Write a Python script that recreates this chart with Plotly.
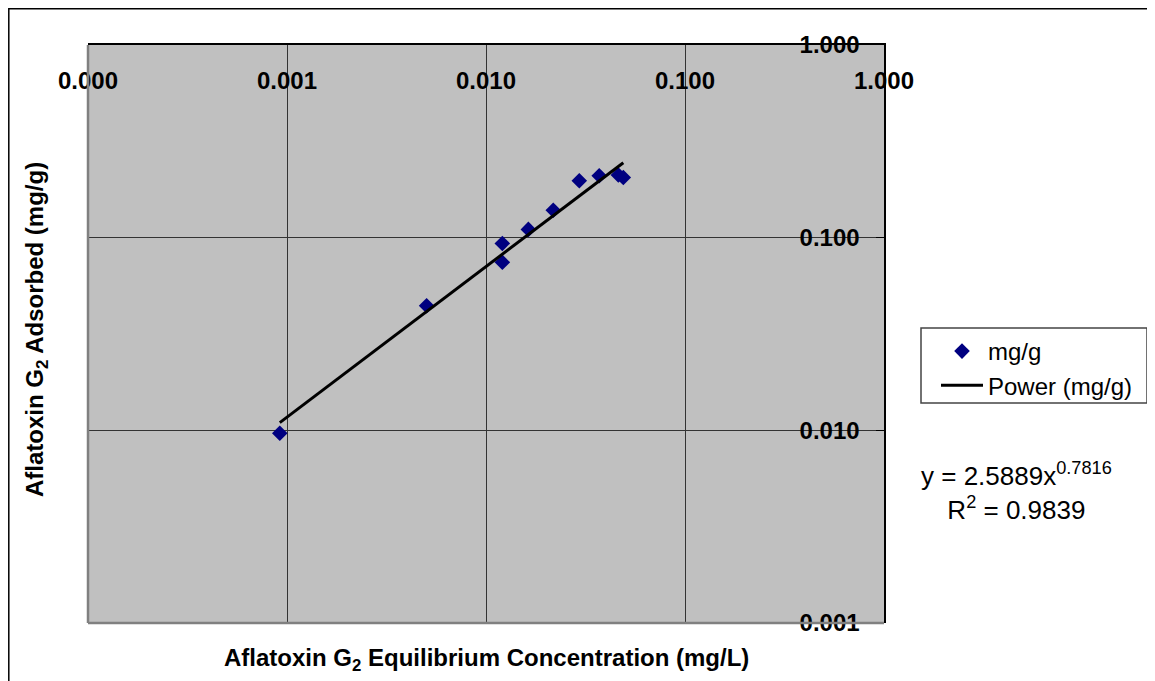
import plotly.graph_objects as go

# ---- data ----
conc_mg_L = [0.00092, 0.00503, 0.01208, 0.01208, 0.01633, 0.02178, 0.02943, 0.03706, 0.04624, 0.04897]
adsorbed_mg_g = [0.00965, 0.0443, 0.0933, 0.0745, 0.1104, 0.1387, 0.1973, 0.2095, 0.2113, 0.2052]

x_tickvals = [0.0001, 0.001, 0.01, 0.1, 1]
x_ticktext = ["0.000", "0.001", "0.010", "0.100", "1.000"]
y_tickvals = [0.001, 0.01, 0.1, 1]
y_ticktext = ["0.001", "0.010", "0.100", "1.000"]

# power trendline as stated on the chart: y = a * x^b
trend_a = 2.5889
trend_b = 0.7816
trend_label = "y = 2.5889x<sup>0.7816</sup><br>R<sup>2</sup> = 0.9839"

FONT = "Liberation Sans, Arial, sans-serif"

trend_x = [min(conc_mg_L), max(conc_mg_L)]
trend_y = [trend_a * v ** trend_b for v in trend_x]

fig = go.Figure()
fig.add_trace(go.Scatter(
    x=conc_mg_L, y=adsorbed_mg_g, mode="markers", name="mg/g",
    marker=dict(symbol="diamond", size=12, color="#000080", line=dict(width=0)),
))
fig.add_trace(go.Scatter(
    x=trend_x, y=trend_y, mode="lines", name="Power (mg/g)",
    line=dict(color="black", width=3),
))

# page has an 8px body margin; work in page pixels and convert
OFF = 8
PAGE_W, PAGE_H = 1155, 681
W, H = PAGE_W - OFF, PAGE_H - OFF
PL, PT, PR, PB = 88, 45, 884, 623          # plot area in page pixels
L, T = PL - OFF, PT - OFF
R, B = (OFF + W) - PR, (OFF + H) - PB
pw, ph = PR - PL, PB - PT

def px_x(p):
    return (p - PL) / pw

def px_y(p):
    return (PB - p) / ph

fig.update_layout(
    width=W, height=H,
    margin=dict(l=L, r=R, t=T, b=B, autoexpand=False),
    paper_bgcolor="white",
    plot_bgcolor="#C0C0C0",
    font=dict(family=FONT, color="black"),
    showlegend=True,
    legend=dict(
        x=px_x(936), y=px_y(329), xanchor="left", yanchor="top",
        bgcolor="rgba(0,0,0,0)", borderwidth=0,
        font=dict(family=FONT, size=24, color="black"),
        tracegroupgap=0, itemwidth=42,
    ),
    xaxis=dict(
        type="log", range=[-4, 0], side="top",
        tickmode="array", tickvals=x_tickvals, ticktext=x_ticktext,
        tickfont=dict(family=FONT, size=24, color="black", weight="bold"),
        ticklabelstandoff=-55,
        showgrid=True, gridcolor="#333333", gridwidth=1,
        showline=True, linecolor="black", linewidth=1.5, mirror=False,
        ticks="", zeroline=False,
    ),
    yaxis=dict(
        type="log", range=[-3, 0], side="right",
        tickmode="array", tickvals=y_tickvals, ticktext=y_ticktext,
        tickfont=dict(family=FONT, size=24, color="black", weight="bold"),
        ticklabelstandoff=-91,
        showgrid=True, gridcolor="#333333", gridwidth=1,
        showline=True, linecolor="black", linewidth=1.5,
        ticks="inside", ticklen=8, tickcolor="black", tickwidth=1,
        zeroline=False,
    ),
    shapes=[
        # plot-area border (left & bottom, grey)
        dict(type="line", xref="paper", yref="paper", x0=0, x1=0, y0=0, y1=1,
             line=dict(color="#808080", width=2.5), layer="above"),
        dict(type="line", xref="paper", yref="paper", x0=0, x1=1, y0=0, y1=0,
             line=dict(color="#808080", width=2.5), layer="above"),
        # legend frame
        dict(type="rect", xref="paper", yref="paper",
             x0=px_x(921), x1=px_x(1147), y0=px_y(403), y1=px_y(328),
             line=dict(color="#444444", width=1.5), fillcolor="white", layer="below"),
        # outer chart border
        dict(type="rect", xref="paper", yref="paper",
             x0=px_x(OFF + 0.8), x1=px_x(1151), y0=px_y(695), y1=px_y(OFF + 0.8),
             line=dict(color="black", width=1.5), fillcolor="rgba(0,0,0,0)", layer="below"),
    ],
    annotations=[
        dict(text="Aflatoxin G<sub>2</sub> Equilibrium Concentration (mg/L)",
             xref="paper", yref="paper", x=px_x(486), y=px_y(659),
             xanchor="center", yanchor="middle", showarrow=False,
             font=dict(family=FONT, size=24, color="black", weight="bold")),
        dict(text="Aflatoxin G<sub>2</sub> Adsorbed (mg/g)",
             xref="paper", yref="paper", x=px_x(36), y=px_y(330), textangle=-90,
             xanchor="center", yanchor="middle", showarrow=False,
             font=dict(family=FONT, size=24, color="black", weight="bold")),
        dict(text=trend_label,
             xref="paper", yref="paper", x=px_x(1016), y=px_y(491),
             xanchor="center", yanchor="middle", align="center", showarrow=False,
             font=dict(family=FONT, size=26, color="black")),
    ],
)

fig.write_html("out.html")
